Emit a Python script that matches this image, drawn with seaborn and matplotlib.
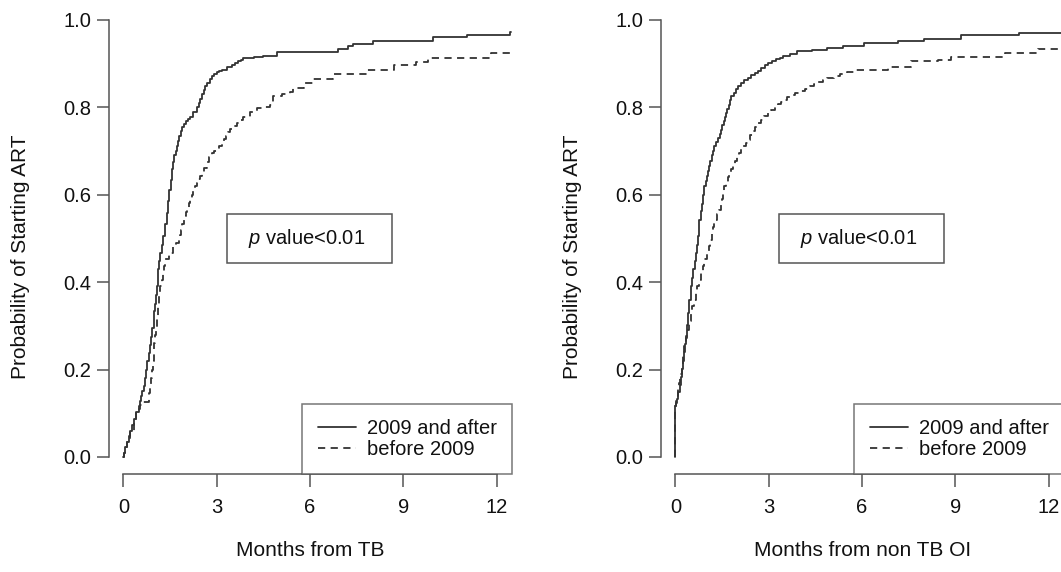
import numpy as np
import pandas as pd
import matplotlib
matplotlib.use("Agg")
import matplotlib.pyplot as plt
from matplotlib.lines import Line2D
from matplotlib.patches import Rectangle
import seaborn as sns

# ---------------- data ----------------
tb_after_t = [0.00, 0.01, 0.06, 0.12, 0.17, 0.22, 0.28, 0.33, 0.41, 0.49, 0.53, 0.57, 0.61, 0.65,
              0.69, 0.73, 0.77, 0.81, 0.85, 0.89, 0.93, 0.97, 1.00, 1.03, 1.06, 1.08, 1.10, 1.12,
              1.15, 1.17, 1.23, 1.29, 1.34, 1.40, 1.44, 1.48, 1.52, 1.56, 1.60, 1.64, 1.68, 1.72,
              1.76, 1.80, 1.84, 1.88, 1.94, 2.00, 2.08, 2.15, 2.25, 2.36, 2.42, 2.47, 2.52, 2.58,
              2.64, 2.70, 2.78, 2.85, 2.92, 3.00, 3.08, 3.17, 3.33, 3.49, 3.60, 3.70, 3.78, 3.86,
              4.20, 4.50, 4.93, 6.91, 7.23, 7.39, 8.03, 9.96, 11.03, 12.42, 12.47]
tb_after_p = [0.000, 0.010, 0.022, 0.034, 0.047, 0.060, 0.073, 0.087, 0.102, 0.117, 0.128, 0.140,
              0.151, 0.163, 0.181, 0.200, 0.220, 0.239, 0.257, 0.275, 0.295, 0.315, 0.333, 0.350,
              0.370, 0.391, 0.410, 0.430, 0.449, 0.467, 0.486, 0.505, 0.532, 0.559, 0.585, 0.610,
              0.634, 0.658, 0.674, 0.690, 0.701, 0.711, 0.723, 0.735, 0.746, 0.756, 0.762, 0.768,
              0.774, 0.779, 0.790, 0.802, 0.811, 0.820, 0.830, 0.840, 0.848, 0.856, 0.864, 0.871,
              0.876, 0.880, 0.883, 0.886, 0.892, 0.897, 0.901, 0.905, 0.909, 0.912, 0.915, 0.918,
              0.926, 0.933, 0.941, 0.945, 0.953, 0.960, 0.966, 0.973, 0.973]

tb_before_t = [0.00, 0.01, 0.06, 0.12, 0.22, 0.33, 0.41, 0.49, 0.55, 0.60, 0.81, 0.84, 0.87, 0.90,
               0.92, 0.95, 0.97, 1.00, 1.02, 1.05, 1.08, 1.11, 1.13, 1.16, 1.19, 1.23, 1.27, 1.31,
               1.35, 1.48, 1.61, 1.70, 1.78, 1.82, 1.86, 1.90, 1.94, 1.98, 2.02, 2.06, 2.10, 2.15,
               2.20, 2.25, 2.31, 2.36, 2.41, 2.47, 2.52, 2.60, 2.68, 2.76, 2.85, 2.92, 3.00, 3.08,
               3.17, 3.24, 3.30, 3.37, 3.43, 3.54, 3.65, 3.76, 3.86, 4.08, 4.29, 4.50, 4.72, 4.82,
               5.10, 5.36, 5.46, 5.80, 6.11, 6.75, 7.82, 8.70, 9.42, 9.80, 11.82, 12.47]
tb_before_p = [0.000, 0.010, 0.022, 0.034, 0.060, 0.087, 0.100, 0.110, 0.118, 0.125, 0.129, 0.146,
               0.163, 0.181, 0.200, 0.220, 0.239, 0.260, 0.280, 0.298, 0.315, 0.333, 0.350, 0.370,
               0.391, 0.405, 0.420, 0.436, 0.452, 0.467, 0.482, 0.490, 0.498, 0.509, 0.520, 0.532,
               0.543, 0.551, 0.560, 0.570, 0.581, 0.590, 0.600, 0.609, 0.619, 0.627, 0.635, 0.643,
               0.650, 0.662, 0.675, 0.686, 0.696, 0.700, 0.705, 0.711, 0.718, 0.727, 0.735, 0.743,
               0.751, 0.758, 0.765, 0.772, 0.779, 0.789, 0.798, 0.802, 0.806, 0.825, 0.830, 0.836,
               0.844, 0.855, 0.865, 0.876, 0.886, 0.896, 0.903, 0.913, 0.925, 0.925]

oi_after_t = [0.00, 0.00, 0.03, 0.06, 0.10, 0.15, 0.19, 0.23, 0.26, 0.28, 0.31, 0.33, 0.37, 0.41,
              0.45, 0.50, 0.54, 0.58, 0.62, 0.66, 0.69, 0.72, 0.75, 0.77, 0.81, 0.85, 0.89, 0.93,
              0.97, 1.01, 1.05, 1.09, 1.13, 1.17, 1.21, 1.25, 1.31, 1.36, 1.42, 1.47, 1.51, 1.55,
              1.59, 1.63, 1.67, 1.71, 1.75, 1.79, 1.87, 1.95, 2.03, 2.11, 2.22, 2.33, 2.44, 2.55,
              2.66, 2.76, 2.87, 2.98, 3.12, 3.25, 3.36, 3.47, 3.69, 3.91, 4.40, 4.88, 5.40, 6.06,
              7.14, 8.00, 9.19, 11.03, 12.49]
oi_after_p = [0.000, 0.117, 0.124, 0.132, 0.148, 0.165, 0.183, 0.201, 0.220, 0.240, 0.258, 0.277,
              0.303, 0.330, 0.360, 0.391, 0.410, 0.430, 0.449, 0.467, 0.486, 0.505, 0.524, 0.543,
              0.562, 0.580, 0.600, 0.619, 0.631, 0.643, 0.654, 0.665, 0.678, 0.690, 0.700, 0.711,
              0.721, 0.730, 0.740, 0.749, 0.759, 0.768, 0.778, 0.787, 0.797, 0.806, 0.816, 0.825,
              0.834, 0.842, 0.849, 0.855, 0.862, 0.868, 0.873, 0.878, 0.884, 0.890, 0.896, 0.901,
              0.906, 0.910, 0.914, 0.918, 0.923, 0.928, 0.932, 0.935, 0.940, 0.947, 0.953, 0.956,
              0.966, 0.970, 0.971]

oi_before_t = [0.00, 0.00, 0.03, 0.05, 0.09, 0.12, 0.16, 0.20, 0.24, 0.28, 0.33, 0.39, 0.44, 0.50,
               0.55, 0.60, 0.66, 0.71, 0.77, 0.82, 0.88, 0.93, 1.01, 1.09, 1.13, 1.17, 1.21, 1.25,
               1.33, 1.41, 1.46, 1.50, 1.54, 1.58, 1.64, 1.69, 1.74, 1.79, 1.86, 1.92, 1.99, 2.06,
               2.12, 2.19, 2.26, 2.33, 2.41, 2.49, 2.57, 2.65, 2.76, 2.86, 2.97, 3.08, 3.19, 3.30,
               3.41, 3.52, 3.60, 3.69, 3.85, 4.00, 4.17, 4.34, 4.47, 4.60, 4.74, 4.88, 5.09, 5.30,
               5.52, 5.74, 6.82, 7.57, 8.44, 8.87, 10.59, 11.67, 12.43, 12.49]
oi_before_p = [0.000, 0.117, 0.128, 0.140, 0.155, 0.170, 0.190, 0.210, 0.232, 0.254, 0.272, 0.290,
               0.310, 0.330, 0.345, 0.360, 0.376, 0.391, 0.406, 0.420, 0.436, 0.452, 0.467, 0.482,
               0.496, 0.510, 0.527, 0.543, 0.555, 0.566, 0.578, 0.590, 0.605, 0.619, 0.630, 0.640,
               0.649, 0.658, 0.668, 0.678, 0.687, 0.696, 0.704, 0.712, 0.719, 0.726, 0.736, 0.745,
               0.755, 0.764, 0.772, 0.780, 0.788, 0.795, 0.801, 0.807, 0.812, 0.817, 0.823, 0.829,
               0.834, 0.838, 0.843, 0.848, 0.853, 0.857, 0.862, 0.867, 0.872, 0.876, 0.881, 0.886,
               0.893, 0.905, 0.909, 0.916, 0.924, 0.933, 0.939, 0.939]

groups = ["2009 and after", "before 2009"]
x_labels = ["Months from TB", "Months from non TB OI"]
y_label = "Probability of Starting ART"
x_ticks = [0, 3, 6, 9, 12]
y_ticks = [0.0, 0.2, 0.4, 0.6, 0.8, 1.0]
y_ticklabels = ["0.0", "0.2", "0.4", "0.6", "0.8", "1.0"]
p_text = "$p$ value<0.01"

panels = [
    {groups[0]: (tb_after_t, tb_after_p), groups[1]: (tb_before_t, tb_before_p)},
    {groups[0]: (oi_after_t, oi_after_p), groups[1]: (oi_before_t, oi_before_p)},
]

# ---------------- style ----------------
sns.set_theme(style="ticks")
plt.rcParams["font.family"] = ["Liberation Sans", "DejaVu Sans"]
plt.rcParams["mathtext.fontset"] = "custom"
plt.rcParams["mathtext.rm"] = "Liberation Sans"
plt.rcParams["mathtext.it"] = "Liberation Sans:italic"

line_col = "#333333"
axis_col = "#555555"
dash_map = {groups[0]: "", groups[1]: (4, 3)}

W, H = 1061, 572
fig = plt.figure(figsize=(W / 100, H / 100), dpi=100)
fig.patch.set_facecolor("white")

ax_bottom_px = 474
ax_top_px = 2.5
ax_w_px = 403
lefts_px = [109, 661]

for i, (panel, left_px) in enumerate(zip(panels, lefts_px)):
    ax = fig.add_axes([left_px / W, (H - ax_bottom_px) / H, ax_w_px / W,
                       (ax_bottom_px - ax_top_px) / H])
    rows = []
    for g in groups:
        t, p = panel[g]
        rows.append(pd.DataFrame({"month": t, "prob": p, "group": g}))
    df = pd.concat(rows, ignore_index=True)

    sns.lineplot(data=df, x="month", y="prob", style="group", style_order=groups,
                 dashes=dash_map, color=line_col, linewidth=1.3, estimator=None,
                 sort=False, drawstyle="steps-post", legend=False, ax=ax)

    ax.set_xlim(-0.46, 12.49)
    ax.set_ylim(-0.039, 1.04)
    ax.set_xticks(x_ticks)
    ax.set_xticklabels([str(v) for v in x_ticks])
    ax.set_yticks(y_ticks)
    ax.set_yticklabels(y_ticklabels)

    for s in ["top", "right"]:
        ax.spines[s].set_visible(False)
    ax.spines["left"].set_bounds(0, 1)
    ax.spines["bottom"].set_bounds(0, 12)
    for s in ["left", "bottom"]:
        ax.spines[s].set_color(axis_col)
        ax.spines[s].set_linewidth(1.1)

    ax.tick_params(axis="both", direction="out", length=9, width=1.1, color=axis_col,
                   labelsize=14.5, labelcolor="#111111")
    ax.tick_params(axis="x", pad=8)
    ax.tick_params(axis="y", pad=4)

    ax.set_xlabel(x_labels[i], fontsize=15, color="#111111")
    ax.set_ylabel(y_label, fontsize=15, color="#111111")
    ax.xaxis.set_label_coords(0.5, -0.142)
    ax.yaxis.set_label_coords(-0.196, 0.46)

    # p-value annotation box
    ax.add_patch(Rectangle((3.32, 0.445), 5.3, 0.11, transform=ax.transData,
                           facecolor="white", edgecolor=axis_col, linewidth=1.1, zorder=3))
    ax.text(5.9, 0.50, p_text, ha="center", va="center", fontsize=14.5,
            color="#111111", zorder=4)

    handles = [Line2D([], [], color=line_col, linewidth=1.3, linestyle="-"),
               Line2D([], [], color=line_col, linewidth=1.3, linestyle=(0, (4, 3)))]
    leg = ax.legend(handles, groups, loc="lower right", bbox_to_anchor=(1.0, 0.0),
                    frameon=True, fancybox=False, fontsize=14.5, borderaxespad=0,
                    borderpad=0.75, labelspacing=0.08, handlelength=1.9,
                    handletextpad=0.55)
    leg.get_frame().set_edgecolor(axis_col)
    leg.get_frame().set_linewidth(1.1)
    for txt in leg.get_texts():
        txt.set_color("#111111")

fig.savefig("out.png", dpi=100, facecolor="white")
